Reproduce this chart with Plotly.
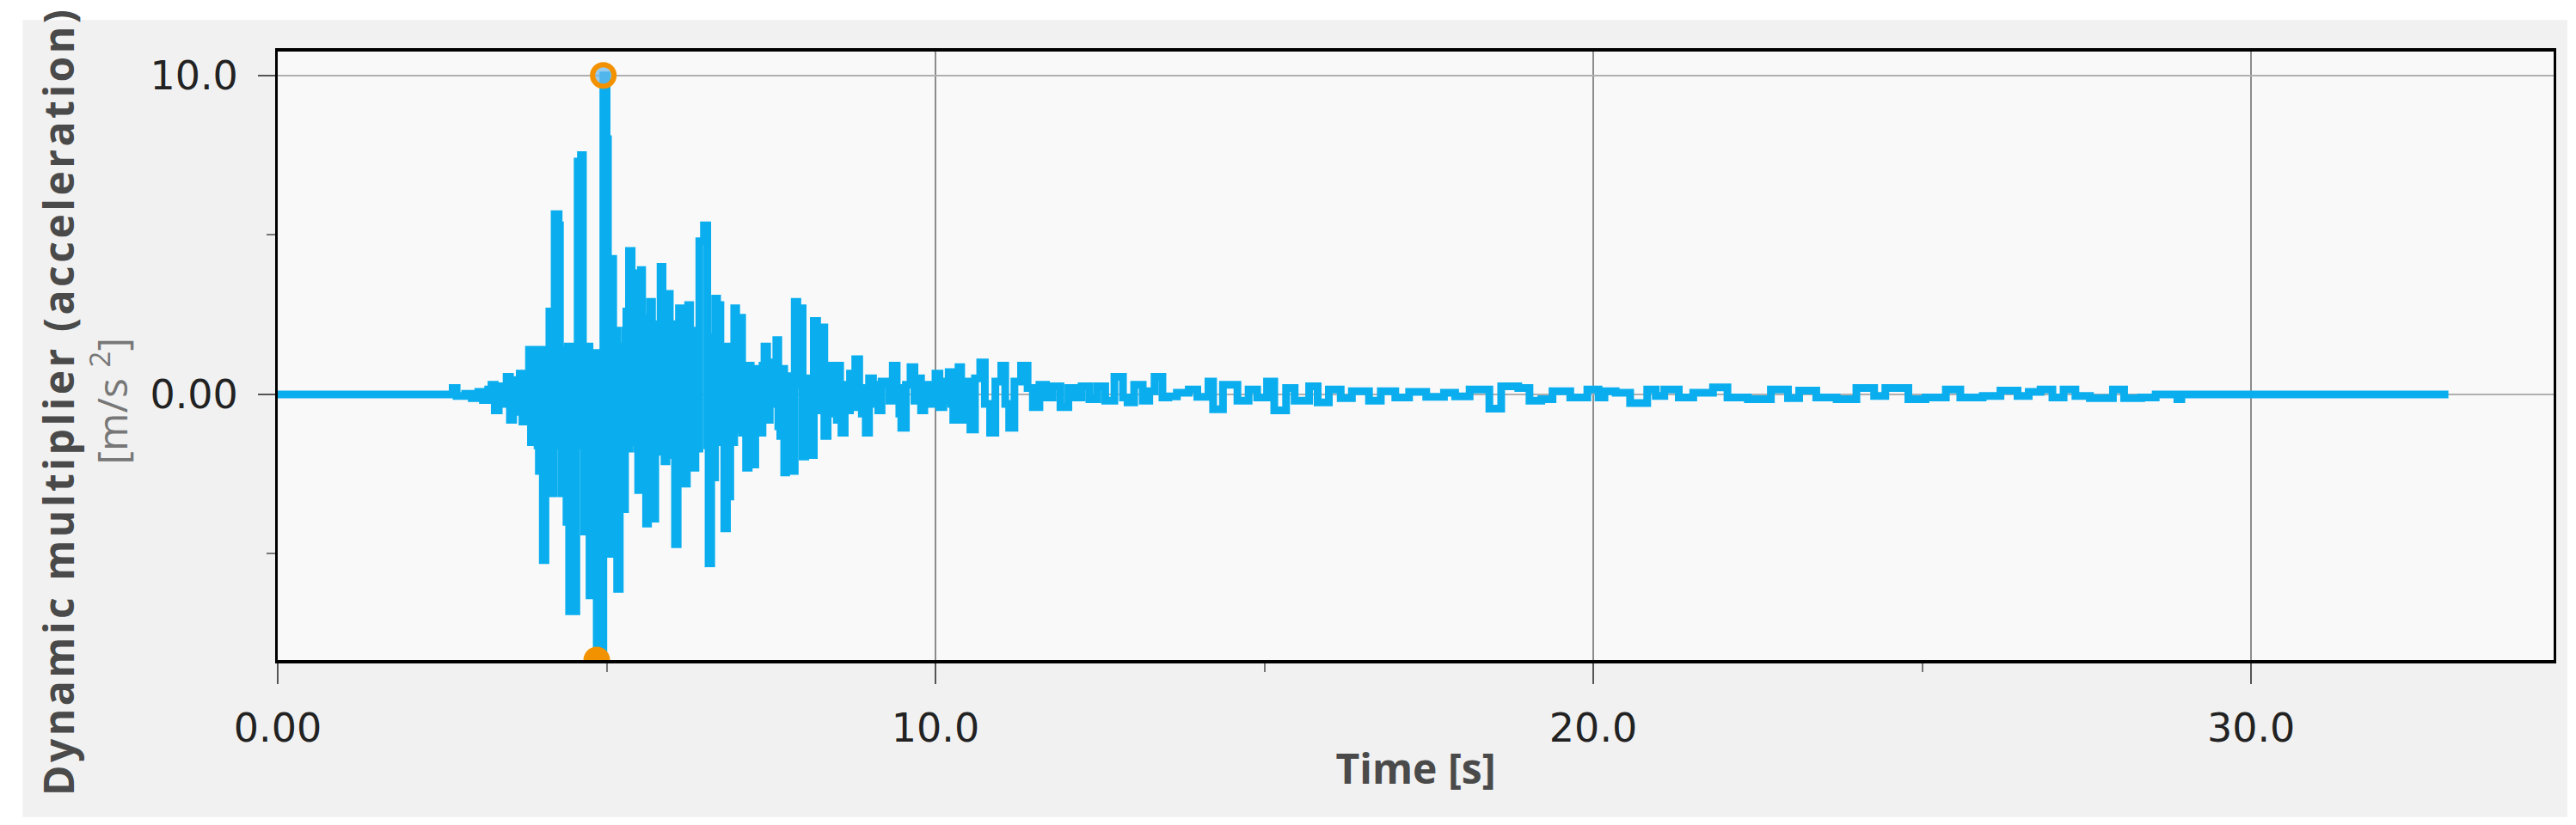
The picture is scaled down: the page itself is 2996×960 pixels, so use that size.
import plotly.graph_objects as go

# Acceleration record (time in s, value in m/s2), in stretches
t_inicio = [0.00, 2.62, 2.66, 2.72, 2.85, 2.95, 3.05, 3.12, 3.20, 3.25,
            3.30, 3.36, 3.42, 3.48, 3.53, 3.58, 3.63, 3.68, 3.72, 3.77]
a_inicio = [0.00, 0.00, 0.20, -0.05, 0.02, -0.12, 0.08, -0.18, 0.15, 0.30,
            -0.50, 0.25, -0.30, 0.55, -0.80, 0.45, -0.55, 0.65, -0.85, 0.60]

t_fuerte = [
    3.82, 3.85, 3.87, 3.90, 3.92, 3.95, 3.97, 4.00, 4.03, 4.07,
    4.09, 4.11, 4.13, 4.15, 4.17, 4.19, 4.21, 4.27, 4.29, 4.31,
    4.33, 4.35, 4.37, 4.39, 4.41, 4.43, 4.47, 4.49, 4.51, 4.54,
    4.56, 4.61, 4.64, 4.66, 4.68, 4.70, 4.72, 4.74, 4.77, 4.79,
    4.85, 4.95, 5.00, 5.02, 5.04, 5.06, 5.08, 5.10, 5.12, 5.14,
    5.16, 5.20, 5.22, 5.24, 5.26, 5.28, 5.30, 5.32, 5.34, 5.38,
    5.40, 5.42, 5.44, 5.46, 5.48, 5.50, 5.52, 5.54, 5.56, 5.58,
    5.60, 5.63, 5.66, 5.69, 5.71, 5.74, 5.77, 5.80, 5.82, 5.85,
    5.88, 5.91, 5.93, 5.96, 5.99, 6.02, 6.04, 6.08, 6.10, 6.13,
    6.15, 6.17, 6.19, 6.22, 6.24, 6.27, 6.29, 6.31, 6.33, 6.35,
    6.37, 6.39, 6.41, 6.48, 6.53, 6.55, 6.59, 6.61, 6.63, 6.65,
    6.68, 6.71, 6.73, 6.75, 6.77, 6.79, 6.83, 6.85, 6.88, 6.90,
    6.92, 6.94, 6.97, 6.99, 7.01, 7.03, 7.06, 7.08, 7.10, 7.12,
    7.16, 7.19, 7.26, 7.29, 7.31, 7.34, 7.37, 7.40, 7.44, 7.48,
    7.52, 7.58, 7.61, 7.64, 7.67, 7.70, 7.73, 7.76, 7.79, 7.82,
    7.86, 7.90, 7.94, 7.98, 8.02, 8.06, 8.09, 8.12, 8.15, 8.20,
    8.26, 8.31,
]
a_fuerte = [
    1.4, -1.5, 1.3, -1.5, 1.4, -1.6, -2.4, 1.4, -5.2, -1.8,
    1.4, -1.6, 2.6, -1.5, -3.1, 1.4, 5.65, 5.3, -1.6, -3.1,
    1.4, -1.5, 1.4, -4.0, 1.5, -6.8, -1.6, 1.4, -6.8, 1.5,
    7.3, 7.5, -1.6, -4.3, 1.5, -1.6, 1.5, -6.3, -1.5, 1.3,
    -8.33, 10.0, 8.0, -1.7, -5.0, 1.8, 4.25, -1.7, -5.0, 2.0,
    -6.1, -1.7, 1.5, -1.7, -3.6, 2.0, 2.6, -1.7, 4.5, 2.0,
    -1.5, 2.2, 3.8, -1.7, -3.0, 2.2, 3.9, -1.7, 2.4, -1.8,
    -4.05, 2.0, 2.9, -1.8, -3.9, 2.2, 2.2, -1.8, 4.0, -1.8,
    -2.1, 2.2, 3.15, -1.8, -1.9, 2.2, -4.7, -1.8, 2.7, -1.8,
    2.3, -1.5, -2.8, 2.0, 2.8, -1.5, -1.8, 2.0, -2.3, 1.5,
    0.8, -1.7, 4.8, 5.3, -1.6, -5.3, -2.6, 1.8, -2.6, 3.0,
    -1.5, 2.8, -0.6, 1.5, -0.6, -4.2, 1.2, -3.2, 1.5, 0.8,
    -1.5, 2.7, -1.1, 1.5, -1.1, 2.4, -1.2, 0.8, -1.2, -2.3,
    0.9, -2.2, 0.8, -0.8, 0.8, -1.2, 0.9, 1.5, -0.8, -0.3,
    1.0, 1.7, -1.0, -1.3, 0.8, -2.45, 0.57, -1.2, 0.57, -2.4,
    2.9, 0.3, 2.7, -1.95, 0.5, -1.0, 0.4, -1.9, 2.3, -0.5,
    2.1, -1.3,
]

t_medio = [
    8.36, 8.40, 8.44, 8.47, 8.50, 8.52, 8.55, 8.57, 8.62, 8.66,
    8.70, 8.74, 8.78, 8.84, 8.88, 8.94, 8.99, 9.05, 9.09, 9.13,
    9.18, 9.25, 9.30, 9.35, 9.41, 9.45, 9.48, 9.55, 9.62, 9.68,
    9.73, 9.78, 9.83, 9.88, 9.94, 10.00, 10.06, 10.12, 10.16, 10.20,
    10.24, 10.27, 10.31, 10.35, 10.39, 10.42, 10.47, 10.53, 10.60, 10.68,
    10.75, 10.83, 10.91, 11.00, 11.06, 11.12, 11.20, 11.30, 11.40, 11.48,
]
a_medio = [
    0.5, 0.9, -0.6, -0.1, -0.8, 0.9, -0.3, -1.2, 0.3, -0.5,
    0.65, -0.4, 1.1, 0.2, -0.6, -1.2, 0.5, 0.3, -0.3, -0.5,
    0.4, 0.3, -0.2, 0.9, 0.2, -0.6, -1.05, 0.3, 0.85, -0.2,
    0.5, -0.5, 0.2, 0.3, -0.3, 0.65, -0.4, -0.2, 0.4, 0.7,
    -0.3, -0.8, 0.4, 0.85, -0.3, -0.8, 0.4, -1.1, 0.5, 1.0,
    -0.3, -1.2, 0.4, 0.9, -0.3, -1.05, 0.4, 0.9, 0.2, -0.4,
]

t_cola = [
    11.58, 11.68, 11.78, 11.90, 12.02, 12.12, 12.22, 12.34, 12.46, 12.58, 12.72, 12.85, 12.92, 13.02, 13.15,
    13.25, 13.33, 13.45, 13.54, 13.67, 13.85, 13.98, 14.15, 14.22, 14.37, 14.59, 14.76, 14.89, 15.04, 15.15,
    15.33, 15.46, 15.68, 15.81, 15.98, 16.16, 16.33, 16.59, 16.77, 16.99, 17.20, 17.46, 17.73, 17.90, 18.12,
    18.42, 18.60, 18.86, 19.03, 19.21, 19.38, 19.65, 19.91, 20.08, 20.17, 20.34, 20.56, 20.82, 20.95, 21.08,
    21.30, 21.52, 21.82, 22.04, 22.35, 22.70, 22.96, 23.13, 23.39, 23.70, 24.00, 24.27, 24.44, 24.79, 25.05,
    25.36, 25.58, 25.92, 26.19, 26.45, 26.62, 26.80, 26.98, 27.15, 27.33, 27.55, 27.90, 28.07, 28.33, 28.55,
    28.88, 28.94, 33.00,
]
a_cola = [
    0.30, -0.10, 0.25, -0.40, 0.20, -0.10, 0.25, -0.15, 0.25, -0.20, 0.55, -0.10, -0.25, 0.30, -0.20,
    0.10, 0.55, -0.10, -0.06, 0.05, 0.15, -0.08, 0.40, -0.47, 0.30, -0.20, 0.15, -0.10, 0.40, -0.50,
    0.20, -0.20, 0.25, -0.25, 0.15, -0.12, 0.10, -0.20, 0.10, -0.10, 0.08, -0.08, 0.05, -0.06, 0.15,
    -0.45, 0.25, 0.20, -0.20, -0.15, 0.10, -0.10, 0.15, -0.10, 0.10, 0.05, -0.27, 0.15, -0.05, 0.15,
    -0.10, 0.05, 0.22, -0.10, -0.15, 0.15, -0.12, 0.12, -0.10, -0.15, 0.20, -0.05, 0.20, -0.15, -0.10,
    0.15, -0.10, -0.05, 0.12, -0.05, 0.08, 0.15, -0.10, 0.15, -0.05, -0.12, 0.15, -0.12, -0.10, 0.00,
    -0.15, 0.00, 0.00,
]

tiempo = t_inicio + t_fuerte + t_medio + t_cola
aceleracion = a_inicio + a_fuerte + a_medio + a_cola
assert len(tiempo) == len(aceleracion)

ticks_x = [0, 10, 20, 30]
etiquetas_x = ["0.00", "10.0", "20.0", "30.0"]
ticks_y = [0, 10]
etiquetas_y = ["0.00", "10.0"]

azul = "#0AAEEF"
naranja = "#F39200"

# Maximo y minimo del registro
i_max = aceleracion.index(max(aceleracion))
i_min = aceleracion.index(min(aceleracion))

fig = go.Figure()

fig.add_trace(go.Scatter(
    x=tiempo, y=aceleracion,
    mode="lines",
    line=dict(color=azul, width=9, shape="hv"),
    showlegend=False,
))

fig.add_trace(go.Scatter(
    x=[tiempo[i_max], tiempo[i_min]],
    y=[aceleracion[i_max], aceleracion[i_min]],
    mode="markers",
    marker=dict(
        symbol=["circle", "circle"],
        size=25,
        color=["rgba(110,185,235,0.7)", naranja],
        line=dict(color=naranja, width=6),
    ),
    showlegend=False,
))

# Panel gris claro detras del grafico y fondo del area de trazado
fig.add_shape(
    type="rect", xref="paper", yref="paper",
    x0=-0.112, x1=1.006, y0=-0.258, y1=1.052,
    fillcolor="#f1f1f1", line=dict(width=0), layer="below",
)
fig.add_shape(
    type="rect", xref="paper", yref="paper",
    x0=0, x1=1, y0=0, y1=1,
    fillcolor="#f9f9f9", line=dict(width=0), layer="below",
)

# Titulo del eje Y (centrado en la figura, como en el original)
fig.add_annotation(
    xref="paper", yref="paper", x=-0.085, y=0.425,
    xanchor="center", yanchor="middle", textangle=-90, showarrow=False,
    text="<span style='letter-spacing:3.5px'>Dynamic multiplier (acceleration)</span><br>"
         "<span style='font-weight:400;color:#777777'>[m/s <sup>2</sup>]</span>",
    font=dict(family="Open Sans", size=48, color="#4a4a4a", weight=700),
)

fig.update_layout(
    width=2996, height=960,
    margin=dict(l=315, r=34, t=52, b=200),
    paper_bgcolor="white",
    plot_bgcolor="#f9f9f9",
    font=dict(family="DejaVu Sans", color="#222222", size=46),
)

fig.update_xaxes(
    range=[0, 34.6],
    tickvals=ticks_x, ticktext=etiquetas_x,
    ticks="outside", ticklen=24, tickwidth=1.5, tickcolor="#555555",
    minor=dict(dtick=5, tick0=0, ticks="outside", ticklen=10, tickcolor="#777777", showgrid=False),
    showgrid=True, gridcolor="#8c8c8c", gridwidth=1.5,
    showline=True, linecolor="black", linewidth=4, mirror=True,
    zeroline=False,
    ticklabelstandoff=12,
    title=dict(text="Time [s]", standoff=6,
               font=dict(family="Open Sans", size=48, color="#4a4a4a", weight=700)),
)

fig.update_yaxes(
    range=[min(aceleracion), 10.75],
    tickvals=ticks_y, ticktext=etiquetas_y,
    ticks="outside", ticklen=20, tickwidth=1.5, tickcolor="#555555",
    minor=dict(dtick=5, tick0=0, ticks="outside", ticklen=10, tickcolor="#777777", showgrid=False),
    showgrid=True, gridcolor="#b0b0b0", gridwidth=1.5,
    showline=True, linecolor="black", linewidth=3, mirror=True,
    zeroline=False,
    ticklabelstandoff=14,
)

fig.write_html("out.html")
